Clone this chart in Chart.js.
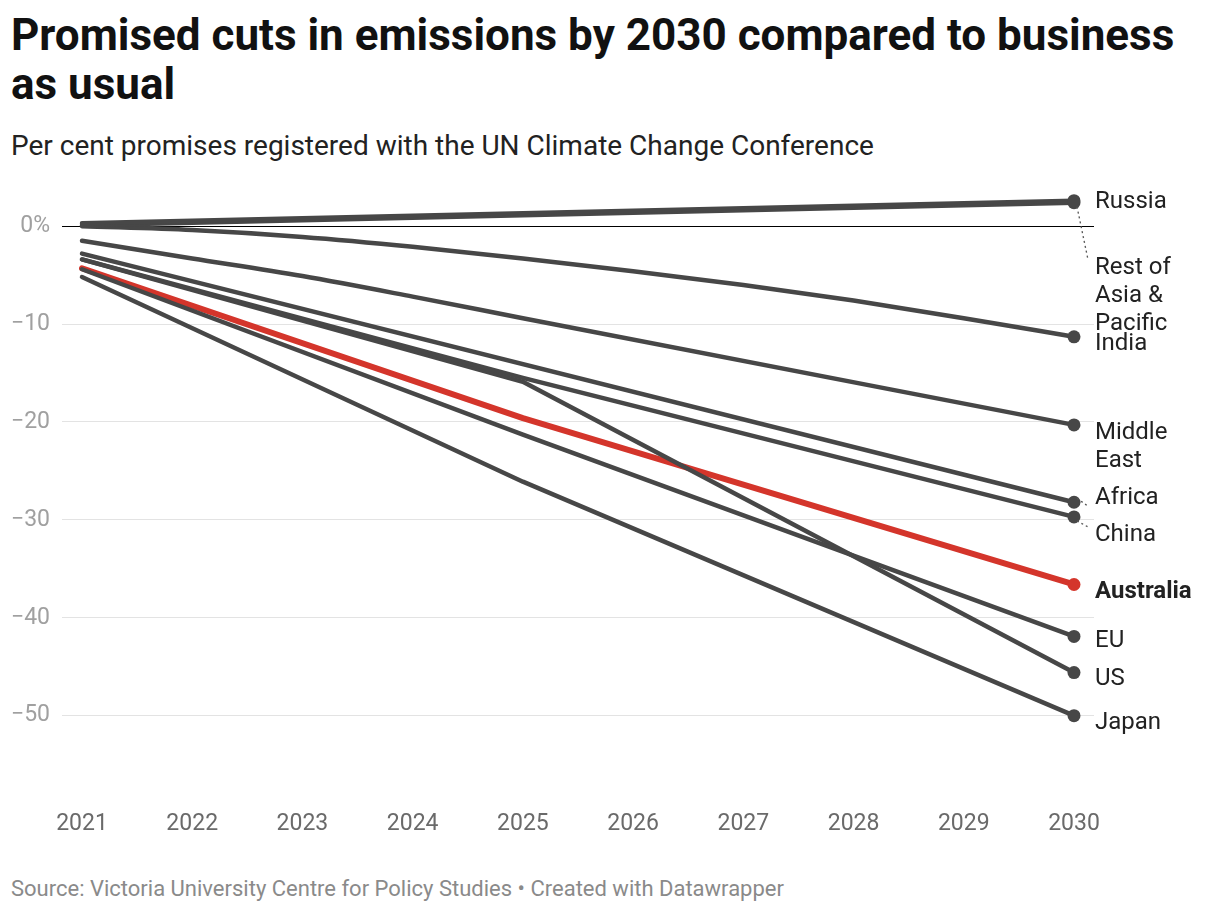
<!DOCTYPE html>
<html>
<head>
<meta charset="utf-8">
<script src="https://cdn.jsdelivr.net/npm/chart.js@4.4.1/dist/chart.umd.min.js"></script>
<style>
  html, body { margin: 0; padding: 0; background: #fff; }
  body { width: 1220px; height: 912px; position: relative; overflow: hidden; font-family: Roboto, "Noto Sans", sans-serif; }
  #title { position: absolute; left: 11px; top: 11px; font-size: 44px; font-weight: 700; line-height: 49px; color: #111; }
  #subtitle { position: absolute; left: 11px; top: 130px; font-size: 28px; line-height: 32px; color: #222; }
  #footer { position: absolute; left: 11px; top: 877px; font-size: 22px; line-height: 24px; color: #8a8a8a; }
  #wrap { position: absolute; left: 0; top: 170px; width: 1220px; height: 690px; }
</style>
</head>
<body>
<div id="title">Promised cuts in emissions by 2030 compared to business<br>as usual</div>
<div id="subtitle">Per cent promises registered with the UN Climate Change Conference</div>
<div id="footer">Source: Victoria University Centre for Policy Studies • Created with Datawrapper</div>
<div id="wrap"><canvas id="c" width="1220" height="690"></canvas></div>
<script>
// ---- data ----
const years = [2021, 2022, 2023, 2024, 2025, 2026, 2027, 2028, 2029, 2030];
const yTicks = [0, -10, -20, -30, -40, -50];
const seriesNames = ["Russia", "Rest of Asia & Pacific", "India", "Middle East", "Africa", "China", "EU", "US", "Japan", "Australia"];
const russia          = [0.3, null, null, null, null, null, null, null, null, 2.6];
const restAsiaPacific = [0.1, null, null, null, null, null, null, null, null, 2.4];
const india           = [0.0, -0.4, -1.1, -2.1, -3.3, -4.6, -6.0, -7.6, -9.4, -11.3];
const middleEast      = [-1.5, -3.3, -5.1, -7.2, -9.4, null, null, null, null, -20.3];
const africa          = [-2.8, null, null, null, null, null, null, null, null, -28.2];
const china           = [-3.4, null, null, null, -15.5, null, null, null, null, -29.7];
const eu              = [-4.4, null, null, null, -21.3, null, null, null, null, -41.9];
const us              = [-3.4, null, null, null, -15.9, null, null, null, null, -45.6];
const japan           = [-5.2, null, null, null, -26.1, null, null, null, null, -50.0];
const australia       = [-4.3, null, null, null, -19.6, null, null, null, null, -36.6];
const seriesValues = [russia, restAsiaPacific, india, middleEast, africa, china, eu, us, japan, australia];

// ---- styles ----
const GREY = '#474747';
const RED = '#d4352b';
const smoothSeries = ["India", "Middle East"];
const labelStyle = {
  "Russia":                 { text: ["Russia"], dy: 1 },
  "Rest of Asia & Pacific": { text: ["Rest of", "Asia &", "Pacific"], dy: 65, connector: true },
  "India":                  { text: ["India"], dy: 7 },
  "Middle East":            { text: ["Middle", "East"], dy: 8 },
  "Africa":                 { text: ["Africa"], dy: -4, connector: true },
  "China":                  { text: ["China"], dy: 18, connector: true },
  "EU":                     { text: ["EU"], dy: 5 },
  "US":                     { text: ["US"], dy: 6 },
  "Japan":                  { text: ["Japan"], dy: 7 },
  "Australia":              { text: ["Australia"], dy: 8, bold: true }
};

const datasets = seriesNames.map((name, si) => {
  const vals = seriesValues[si];
  const pts = [];
  vals.forEach((v, i) => { if (v !== null) pts.push({ x: years[i], y: v }); });
  const isAus = name === 'Australia';
  const col = isAus ? RED : GREY;
  const smooth = smoothSeries.includes(name);
  return {
    label: name,
    data: pts,
    borderColor: col,
    backgroundColor: col,
    borderWidth: isAus ? 6 : 4.5,
    borderCapStyle: 'round',
    borderJoinStyle: 'round',
    tension: smooth ? 0.4 : 0,
    cubicInterpolationMode: smooth ? 'monotone' : 'default',
    pointRadius: (ctx) => ctx.dataIndex === pts.length - 1 ? 6.5 : 0,
    pointHoverRadius: 0,
    pointBorderWidth: 0,
    pointBackgroundColor: col
  };
});

const endLabels = {
  id: 'endLabels',
  afterDatasetsDraw(chart) {
    const ctx = chart.ctx;
    const area = chart.chartArea;
    const lx = area.right + 1;
    ctx.save();
    chart.data.datasets.forEach((ds, i) => {
      const meta = chart.getDatasetMeta(i);
      const el = meta.data[meta.data.length - 1];
      const st = labelStyle[ds.label];
      const ly = el.y + st.dy;
      if (st.connector) {
        const sgn = st.dy > 0 ? 1 : -1;
        ctx.beginPath();
        ctx.setLineDash([2, 3]);
        ctx.strokeStyle = '#555';
        ctx.lineWidth = 1.3;
        ctx.moveTo(el.x + 3, el.y + sgn * 4);
        ctx.lineTo(lx - 7, ly - sgn * 8);
        ctx.stroke();
        ctx.setLineDash([]);
      }
      ctx.fillStyle = '#222';
      ctx.font = (st.bold ? '700 ' : '400 ') + '24px Roboto';
      ctx.textAlign = 'left';
      ctx.textBaseline = 'middle';
      st.text.forEach((t, k) => ctx.fillText(t, lx, ly + k * 28));
    });
    ctx.restore();
  }
};

function zeroPad(s) { s.paddingTop = 0; s.paddingBottom = 0; s.paddingLeft = 0; s.paddingRight = 0; }

new Chart(document.getElementById('c'), {
  type: 'line',
  data: { datasets },
  plugins: [endLabels],
  options: {
    responsive: false,
    animation: false,
    devicePixelRatio: 1,
    layout: { padding: { left: 12, right: 126, top: 17, bottom: 26 } },
    plugins: { legend: { display: false }, tooltip: { enabled: false } },
    scales: {
      x: {
        type: 'linear',
        min: 2020.8185,
        max: 2030.1815,
        afterBuildTicks: (s) => { s.ticks = years.map(v => ({ value: v })); },
        afterFit: (s) => { s.height = 40; zeroPad(s); },
        grid: { display: false, drawTicks: false },
        border: { display: false },
        ticks: { color: '#6a6a6a', font: { family: 'Roboto', size: 23 }, padding: 16, maxRotation: 0, callback: (v) => String(v) }
      },
      y: {
        min: -58,
        max: 4,
        afterBuildTicks: (s) => { s.ticks = yTicks.map(v => ({ value: v })); },
        afterFit: (s) => { s.width = 50; zeroPad(s); },
        grid: { drawTicks: false, color: (c) => c.tick && c.tick.value === 0 ? '#000' : '#e3e3e3', lineWidth: 1 },
        border: { display: false },
        ticks: { color: '#a0a0a0', font: { family: 'Roboto', size: 23 }, padding: 12,
                 callback: (v) => v === 0 ? '0%' : '\u2212' + Math.abs(v) }
      }
    }
  }
});
</script>
</body>
</html>
